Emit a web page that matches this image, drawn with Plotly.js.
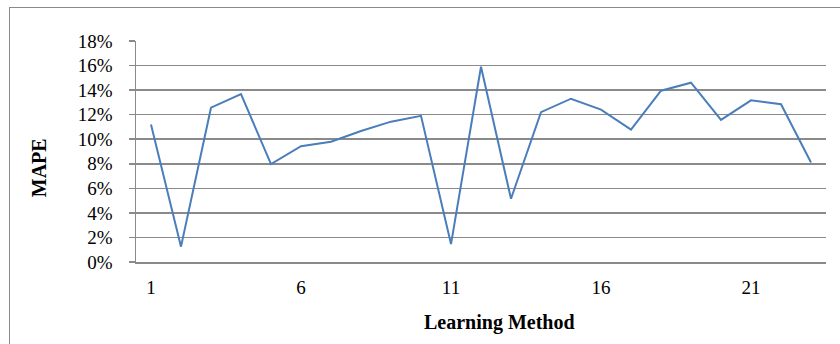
<!DOCTYPE html>
<html>
<head>
<meta charset="utf-8">
<script src="https://cdn.plot.ly/plotly-3.0.1.min.js"></script>
<style>
  html, body { margin: 0; padding: 0; background: #fff; }
  #wrap { position: relative; width: 840px; height: 344px; overflow: hidden; }
  #chart { position: absolute; left: 0; top: 0; width: 840px; height: 344px; }
  #frame { position: absolute; left: 9px; top: 7px; width: 840px; height: 360px;
           border: 1.5px solid #8a8a8a; box-sizing: border-box; pointer-events: none; }
</style>
</head>
<body>
<div id="wrap">
  <div id="chart"></div>
  <div id="frame"></div>
</div>
<script>
// Learning methods 1..23 and their mean absolute percentage error
const methods = [1, 2, 3, 4, 5, 6, 7, 8, 9, 10, 11, 12, 13, 14, 15, 16, 17, 18, 19, 20, 21, 22, 23];
const mape = [0.112, 0.0125, 0.1257, 0.1368, 0.0797, 0.0943, 0.098, 0.1067, 0.1143, 0.119,
              0.0146, 0.159, 0.0515, 0.122, 0.133, 0.1241, 0.1078, 0.1395, 0.146, 0.1157,
              0.1317, 0.1285, 0.081];
const xTickVals = [1, 6, 11, 16, 21];
const xTickText = ['1', '6', '11', '16', '21'];
const yTickVals = [0, 0.02, 0.04, 0.06, 0.08, 0.10, 0.12, 0.14, 0.16, 0.18];

const serif = 'Liberation Serif, Times New Roman, serif';
const gridGray = '#8a8a8a';

const trace = {
  x: methods,
  y: mape,
  type: 'scatter',
  mode: 'lines',
  line: { color: '#4a7ebb', width: 2 },
  hoverinfo: 'x+y'
};

const layout = {
  width: 840,
  height: 344,
  margin: { l: 136, r: 14, t: 41, b: 82 },
  paper_bgcolor: '#ffffff',
  plot_bgcolor: '#ffffff',
  showlegend: false,
  font: { family: serif, color: '#000000', size: 19 },
  xaxis: {
    range: [0.5, 23.5],
    tickmode: 'array',
    tickvals: xTickVals,
    ticktext: xTickText,
    showgrid: false,
    zeroline: false,
    showline: true,
    linecolor: gridGray,
    linewidth: 1.5,
    ticks: '',
    ticklabelstandoff: 8,
    tickfont: { family: serif, size: 19, color: '#000' },
    fixedrange: true
  },
  yaxis: {
    range: [0, 0.18],
    tickmode: 'array',
    tickvals: yTickVals,
    tickformat: '.0%',
    showgrid: true,
    gridcolor: gridGray,
    gridwidth: 1.5,
    zeroline: false,
    showline: true,
    linecolor: gridGray,
    linewidth: 1.5,
    ticks: 'outside',
    ticklen: 6,
    tickcolor: gridGray,
    tickwidth: 1.5,
    ticklabelstandoff: 12,
    tickfont: { family: serif, size: 19, color: '#000' },
    fixedrange: true
  },
  annotations: [
    {
      text: '<b>Learning Method</b>',
      xref: 'paper', yref: 'paper',
      x: 0.5267, y: -0.273,
      xanchor: 'center', yanchor: 'middle',
      showarrow: false,
      font: { family: serif, size: 20, color: '#000' }
    },
    {
      text: '<b>MAPE</b>',
      xref: 'paper', yref: 'paper',
      x: -0.1413, y: 0.4266,
      xanchor: 'center', yanchor: 'middle',
      textangle: -90,
      showarrow: false,
      font: { family: serif, size: 20, color: '#000' }
    }
  ]
};

Plotly.newPlot('chart', [trace], layout, { displayModeBar: false, staticPlot: true });
</script>
</body>
</html>
